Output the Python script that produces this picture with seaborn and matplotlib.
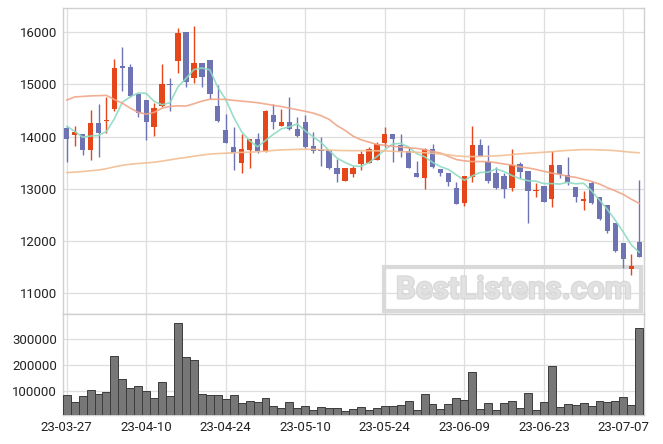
import numpy as np
import pandas as pd
import matplotlib
matplotlib.use('Agg')
import matplotlib.pyplot as plt
import matplotlib.patheffects as pe
from matplotlib.patches import Rectangle
import seaborn as sns

# trading days (KRX), holidays removed
holidays = ['2023-05-01', '2023-05-05', '2023-05-29', '2023-06-06']
dates = [d for d in pd.bdate_range('2023-03-27', '2023-07-11')
         if d.strftime('%Y-%m-%d') not in holidays]

opens = [14160, 14040, 14046, 13750, 14256, 14290, 14536, 15350, 15335, 14818,
         14700, 14190, 14594, 15000, 15456, 16000, 15119, 15406, 15469, 14588,
         14128, 13803, 13502, 13751, 13950, 13726, 14416, 14211, 14276, 14142,
         14276, 13816, 13745, 13745, 13395, 13157, 13291, 13477, 13496, 13554,
         13885, 14052, 13830, 13726, 13305, 13215, 13759, 13381, 13299, 13011,
         12736, 13234, 13841, 13510, 13305, 13247, 13024, 13471, 13337, 12960,
         13056, 12812, 13458, 13266, 13030, 12770, 13107, 12839, 12686, 12341,
         11958, 11471, 11983]
highs = [14200, 14200, 14050, 14510, 14630, 14750, 15480, 15710, 15400, 14820,
         14710, 14640, 15400, 15120, 16080, 16000, 16120, 15410, 15470, 14990,
         14430, 14180, 14050, 13960, 14065, 14510, 14620, 14525, 14755, 14372,
         14416, 14084, 14000, 13750, 13573, 13400, 13443, 13732, 13809, 13898,
         14192, 14052, 14052, 13809, 13535, 13778, 13860, 13381, 13300, 13126,
         13250, 14205, 13950, 13841, 13414, 13300, 13759, 13510, 13337, 13120,
         13060, 13732, 13460, 13605, 13030, 12966, 13157, 12840, 12690, 12341,
         11960, 11747, 13172]
lows = [13520, 13820, 13650, 13550, 13600, 14065, 14500, 14870, 14760, 14380,
        13940, 14010, 14560, 14490, 15215, 14960, 15020, 14960, 14716, 14287,
        13870, 13360, 13310, 13395, 13682, 13713, 14144, 14211, 14128, 14000,
        13784, 13682, 13440, 13380, 13126, 13150, 13222, 13362, 13490, 13554,
        13809, 13510, 13617, 13395, 13222, 12990, 13407, 13247, 13056, 12700,
        12678, 13126, 13636, 13107, 12997, 12820, 12954, 13203, 12341, 12840,
        12750, 12647, 13203, 13075, 12749, 12596, 12705, 12398, 12149, 11785,
        11479, 11345, 11700]
closes = [13950, 14080, 13740, 14270, 14077, 14320, 15310, 15320, 14785, 14448,
          14276, 14542, 15004, 14980, 15981, 15054, 15406, 15150, 14812, 14307,
          13885, 13693, 13764, 13956, 13726, 14492, 14287, 14282, 14142, 14019,
          13809, 13732, 13720, 13395, 13280, 13395, 13400, 13669, 13759, 13860,
          14052, 13962, 13713, 13407, 13234, 13759, 13426, 13299, 13138, 12705,
          13247, 13841, 13636, 13157, 13024, 12992, 13458, 13330, 12966, 12985,
          12755, 13458, 13291, 13126, 12851, 12800, 12736, 12418, 12199, 11816,
          11663, 11523, 11701]
volumes = [86000, 59000, 82000, 105000, 90000, 97000, 236000, 146000, 112000, 119000,
           100000, 73000, 136000, 81000, 362000, 231000, 219000, 88000, 85000, 85000,
           69000, 85000, 54000, 62000, 58000, 73000, 42000, 35000, 58000, 35000,
           42000, 27000, 38000, 35000, 35000, 24000, 32000, 38000, 28000, 36000,
           44000, 44000, 47000, 63000, 28000, 90000, 51000, 32000, 51000, 74000,
           67000, 174000, 32000, 54000, 28000, 54000, 63000, 35000, 94000, 28000,
           59000, 197000, 40000, 50000, 46000, 54000, 44000, 63000, 59000, 63000,
           77000, 47000, 342000]
# first four 5-day averages need older closes
ma5_head = [14200, 14100, 13990, 14010]
ma20 = [14700, 14760, 14770, 14780, 14785, 14790, 14710, 14640, 14545, 14465,
        14430, 14465, 14545, 14580, 14590, 14585, 14630, 14680, 14715, 14715,
        14712, 14695, 14680, 14665, 14650, 14625, 14600, 14575, 14545, 14515,
        14485, 14450, 14400, 14330, 14210, 14120, 14010, 13940, 13895, 13850,
        13835, 13815, 13800, 13785, 13775, 13750, 13715, 13685, 13620, 13560,
        13535, 13522, 13522, 13520, 13500, 13475, 13455, 13420, 13400, 13370,
        13335, 13300, 13275, 13240, 13220, 13180, 13140, 13090, 13020, 12960,
        12890, 12800, 12720]
ma60 = [13310, 13320, 13330, 13345, 13360, 13385, 13420, 13450, 13470, 13485,
        13495, 13510, 13530, 13555, 13580, 13600, 13625, 13645, 13665, 13675,
        13682, 13690, 13698, 13700, 13710, 13720, 13735, 13745, 13750, 13755,
        13758, 13755, 13750, 13742, 13735, 13732, 13730, 13730, 13730, 13728,
        13725, 13720, 13712, 13705, 13700, 13690, 13680, 13665, 13650, 13630,
        13620, 13617, 13620, 13625, 13630, 13640, 13655, 13670, 13680, 13690,
        13700, 13710, 13725, 13735, 13745, 13750, 13750, 13745, 13740, 13730,
        13715, 13700, 13690]

UP = '#E5461A'
DOWN = '#6E73B4'

df = pd.DataFrame({'open': opens, 'high': highs, 'low': lows, 'close': closes,
                   'volume': volumes, 'ma20': ma20, 'ma60': ma60})
df['idx'] = np.arange(len(df))
ma5 = df['close'].rolling(5).mean()
ma5.iloc[:4] = ma5_head
df['ma5'] = ma5
df['up'] = df['close'] >= df['open']

sns.set_theme(style='whitegrid')
plt.rcParams['font.family'] = ['Roboto', 'DejaVu Sans']

fig = plt.figure(figsize=(6.63, 4.44), dpi=100)
ax = fig.add_axes([0.0946, 0.2928, 0.8768, 0.6892])
ax2 = fig.add_axes([0.0946, 0.0653, 0.8768, 0.2275], sharex=ax)

# watermark (see-through) behind the candles
ax.add_patch(Rectangle((0.552, 0.01), 0.443, 0.143, transform=ax.transAxes,
                       facecolor='none', edgecolor='#d9d9d9', lw=3, zorder=1))
ax.text(0.776, 0.080, 'BestListens.com', transform=ax.transAxes, ha='center', va='center',
        fontsize=22.5, fontweight='bold', color='#e2e2e2', alpha=0.85, zorder=1.5,
        path_effects=[pe.withStroke(linewidth=1.5, foreground='#d2d2d2')])

colors = np.where(df['up'], UP, DOWN)
ax.vlines(df['idx'], df['low'], df['high'], colors=colors, lw=1.0, zorder=3)
body_h = (df['close'] - df['open']).abs().clip(lower=25)
body_b = df[['open', 'close']].min(axis=1)
ax.bar(df['idx'], body_h, bottom=body_b, width=0.68, color=colors, zorder=3.5, linewidth=0)

sns.lineplot(data=df, x='idx', y='ma5', ax=ax, color='#8EDBC2', lw=1.2, alpha=0.9, zorder=4)
sns.lineplot(data=df, x='idx', y='ma20', ax=ax, color='#F0A587', lw=1.2, alpha=0.9, zorder=4)
sns.lineplot(data=df, x='idx', y='ma60', ax=ax, color='#F2BE92', lw=1.2, alpha=0.9, zorder=4)

ax.set_ylim(10600, 16465)
ax.set_yticks([11000, 12000, 13000, 14000, 15000, 16000])
ax.set_xlabel('')
ax.set_ylabel('')
ax.tick_params(axis='x', labelbottom=False, length=0)

sns.barplot(data=df, x='idx', y='volume', ax=ax2, native_scale=True, color='#777777',
            edgecolor='#3c3c3c', linewidth=0.7, width=1.0, saturation=1, zorder=3)
ax2.set_ylim(9000, 397000)
ax2.set_yticks([100000, 200000, 300000])
ax2.set_yticklabels(['100000', '200000', '300000'])
ax2.set_xlabel('')
ax2.set_ylabel('')

tick_pos = list(range(0, len(dates), 10))
ax2.set_xticks(tick_pos)
ax2.set_xticklabels([dates[i].strftime('%y-%m-%d') for i in tick_pos])
ax2.set_xlim(-0.5, 72.6)

for a in (ax, ax2):
    a.grid(True, color='#dedede', lw=0.9)
    a.set_axisbelow(True)
    a.tick_params(length=0, labelsize=9.5, labelcolor='#222222', pad=4)
    for s in a.spines.values():
        s.set_color('#d0d0d0')
        s.set_linewidth(1)

fig.savefig('out.png', dpi=100, facecolor='white')
